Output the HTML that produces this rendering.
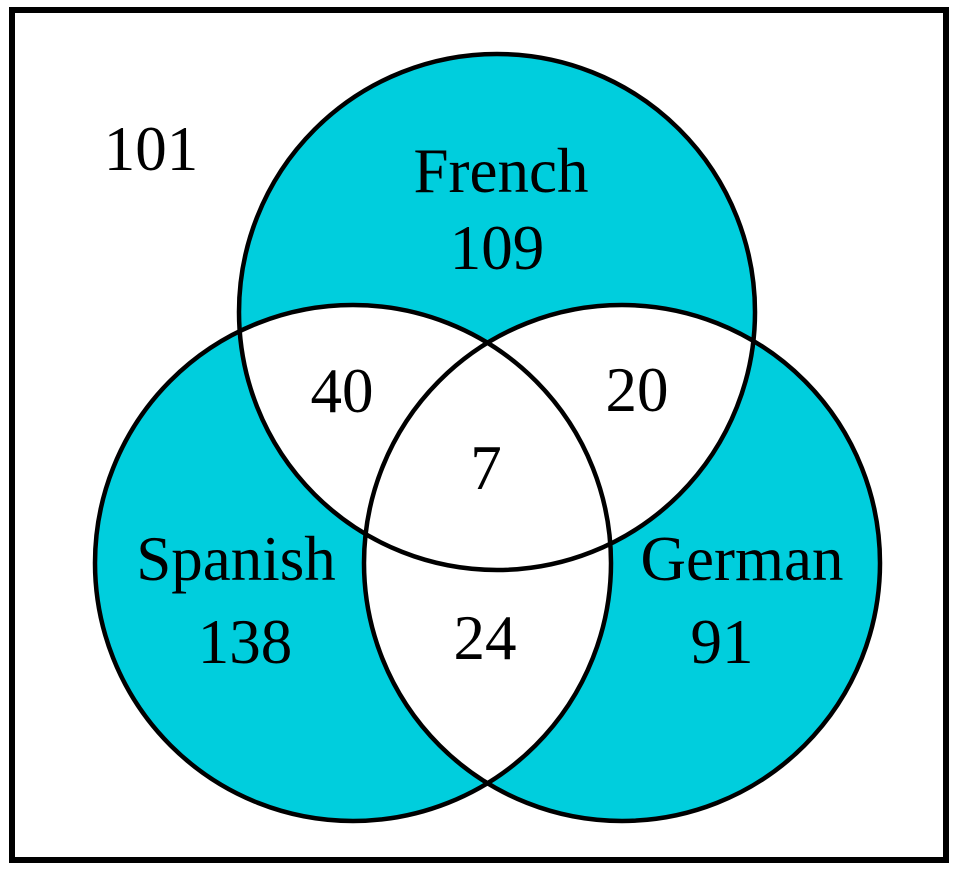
<!DOCTYPE html>
<html><head><style>html,body{margin:0;padding:0;background:#fff}svg{display:block}</style></head>
<body>
<svg width="958" height="870" viewBox="0 0 958 870" xmlns="http://www.w3.org/2000/svg">
<defs>
<clipPath id="cF"><circle cx="497" cy="312" r="258"/></clipPath>
<clipPath id="cS"><circle cx="353" cy="563" r="258"/></clipPath>
</defs>
<rect x="0" y="0" width="958" height="870" fill="#fff"/>
<rect x="12" y="10" width="934" height="850" fill="none" stroke="#000" stroke-width="6"/>
<g fill="#00cedd">
<circle cx="497" cy="312" r="258"/>
<circle cx="353" cy="563" r="258"/>
<circle cx="622" cy="563" r="258"/>
</g>
<g fill="#fff">
<circle cx="353" cy="563" r="258" clip-path="url(#cF)"/>
<circle cx="622" cy="563" r="258" clip-path="url(#cF)"/>
<circle cx="622" cy="563" r="258" clip-path="url(#cS)"/>
</g>
<g fill="none" stroke="#000" stroke-width="4.5">
<circle cx="497" cy="312" r="258"/>
<circle cx="353" cy="563" r="258"/>
<circle cx="622" cy="563" r="258"/>
</g>
<g font-family="'Liberation Serif',serif" font-size="63" fill="#000" text-anchor="middle">
<text x="151" y="170">101</text>
<text x="501" y="192">French</text>
<text x="497" y="269">109</text>
<text x="342" y="412">40</text>
<text x="637" y="411">20</text>
<text x="486" y="489">7</text>
<text x="236" y="580">Spanish</text>
<text x="245" y="663">138</text>
<text x="485" y="659">24</text>
<text x="742" y="580">German</text>
<text x="722" y="663">91</text>
</g>
</svg>
</body></html>
